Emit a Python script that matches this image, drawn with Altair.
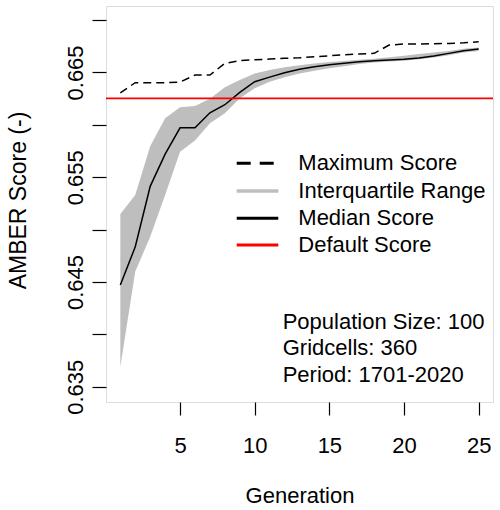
import altair as alt
import pandas as pd

generation = list(range(1, 26))
median_score = [0.64471, 0.64837, 0.65413, 0.65720, 0.65972, 0.65972, 0.66115, 0.66192,
                0.66310, 0.66411, 0.66455, 0.66497, 0.66530, 0.66555, 0.66574, 0.66587,
                0.66602, 0.66612, 0.66618, 0.66625, 0.66637, 0.66656, 0.66682, 0.66707, 0.66723]
iqr_upper = [0.65149, 0.65330, 0.65795, 0.66062, 0.66167, 0.66180, 0.66250, 0.66358,
             0.66427, 0.66491, 0.66523, 0.66550, 0.66568, 0.66585, 0.66600, 0.66610,
             0.66620, 0.66630, 0.66645, 0.66660, 0.66675, 0.66690, 0.66705, 0.66725, 0.66738]
iqr_lower = [0.63692, 0.64600, 0.64932, 0.65330, 0.65743, 0.65850, 0.66014, 0.66110,
             0.66253, 0.66348, 0.66411, 0.66455, 0.66490, 0.66515, 0.66540, 0.66560,
             0.66580, 0.66595, 0.66605, 0.66612, 0.66625, 0.66642, 0.66665, 0.66690, 0.66705]
max_score = [0.66306, 0.66402, 0.66402, 0.66402, 0.66408, 0.66475, 0.66475, 0.66587,
             0.66612, 0.66621, 0.66628, 0.66635, 0.66640, 0.66650, 0.66659, 0.66669,
             0.66676, 0.66682, 0.66761, 0.66771, 0.66771, 0.66774, 0.66777, 0.66783, 0.66793]
default_score = 0.66253

legend_labels = ["Maximum Score", "Interquartile Range", "Median Score", "Default Score"]
info_lines = ["Population Size: 100", "Gridcells: 360", "Period: 1701-2020"]
x_ticks = [5, 10, 15, 20, 25]
y_ticks = [0.635, 0.640, 0.645, 0.650, 0.655, 0.660, 0.665, 0.670]
y_labelled = ["0.635", "0.645", "0.655", "0.665"]

df = pd.DataFrame({"gen": generation, "median": median_score, "upper": iqr_upper,
                   "lower": iqr_lower, "max": max_score})

FONT = "Liberation Sans"
FS = 22

xs = alt.Scale(domain=[0.04, 25.96], nice=False, zero=False)
ys = alt.Scale(domain=[0.63355, 0.67134], nice=False, zero=False)

x_axis = alt.Axis(values=x_ticks, title="Generation", grid=False, domain=False,
                  tickSize=13, tickColor="black", tickWidth=1.2,
                  labelFont=FONT, labelFontSize=FS, labelColor="black",
                  labelPadding=20, labelBaseline="top", labelFlush=False,
                  titleFont=FONT, titleFontSize=FS, titleFontWeight="normal",
                  titleColor="black", titleX=193.5, titleY=93, titleBaseline="middle",
                  titleAlign="center")
y_axis = alt.Axis(values=y_ticks, title="AMBER Score (-)", grid=False, domain=False,
                  tickSize=14, tickColor="black", tickWidth=1.2,
                  labelExpr="indexof(" + str(y_labelled) + ", format(datum.value, '.3f')) >= 0 ? format(datum.value, '.3f') : ''",
                  labelFont=FONT, labelFontSize=FS, labelColor="black",
                  labelAngle=270, labelAlign="center", labelBaseline="bottom",
                  labelPadding=5, labelFlush=False, labelOverlap=False,
                  titleFont=FONT, titleFontSize=23, titleFontWeight="normal",
                  titleColor="black", titleAngle=270, titleX=-88, titleY=194,
                  titleBaseline="middle", titleAlign="center")

base = alt.Chart(df)

band = base.mark_area(color="#BEBEBE", opacity=1).encode(
    x=alt.X("gen:Q", scale=xs, axis=x_axis),
    y=alt.Y("lower:Q", scale=ys, axis=y_axis),
    y2="upper:Q",
)
max_line = base.mark_line(color="black", strokeWidth=1.5, strokeDash=[8, 5]).encode(
    x=alt.X("gen:Q", scale=xs), y=alt.Y("max:Q", scale=ys))
med_line = base.mark_line(color="black", strokeWidth=1.5).encode(
    x=alt.X("gen:Q", scale=xs), y=alt.Y("median:Q", scale=ys))
default_rule = alt.Chart(pd.DataFrame({"d": [default_score]})).mark_rule(
    color="red", strokeWidth=1.8).encode(
    y=alt.Y("d:Q", scale=ys), x=alt.value(0), x2=alt.value(387))

# legend
leg_y = [157.3, 185, 212.3, 239]
leg_styles = [
    dict(color="black", strokeWidth=3, strokeDash=[14, 9]),
    dict(color="#BEBEBE", strokeWidth=3.5),
    dict(color="black", strokeWidth=3),
    dict(color="red", strokeWidth=3),
]
legend_layers = []
for lab, yy, st in zip(legend_labels, leg_y, leg_styles):
    legend_layers.append(
        alt.Chart(pd.DataFrame({"label": [lab]})).mark_rule(**st).encode(
            x=alt.value(130.7), x2=alt.value(172.3), y=alt.value(yy)))
    legend_layers.append(
        alt.Chart(pd.DataFrame({"label": [lab]})).mark_text(
            font=FONT, fontSize=FS, color="black", align="left", baseline="middle").encode(
            text="label:N", x=alt.value(192.3), y=alt.value(yy)))

info_y = [315.7, 342.3, 369]
info_layers = []
for line, yy in zip(info_lines, info_y):
    info_layers.append(
        alt.Chart(pd.DataFrame({"t": [line]})).mark_text(
            font=FONT, fontSize=FS, color="black", align="left", baseline="middle").encode(
            text="t:N", x=alt.value(176.7), y=alt.value(yy)))

chart = alt.layer(band, max_line, med_line, default_rule, *legend_layers, *info_layers).properties(
    width=387, height=396,
    padding={"left": 106, "top": 6, "right": 7, "bottom": 108},
    autosize=alt.AutoSizeParams(type="none"),
).configure_view(stroke="black", strokeWidth=1.3).configure(background="white")

chart.save("out.html", embed_options={"renderer": "svg", "actions": False})
